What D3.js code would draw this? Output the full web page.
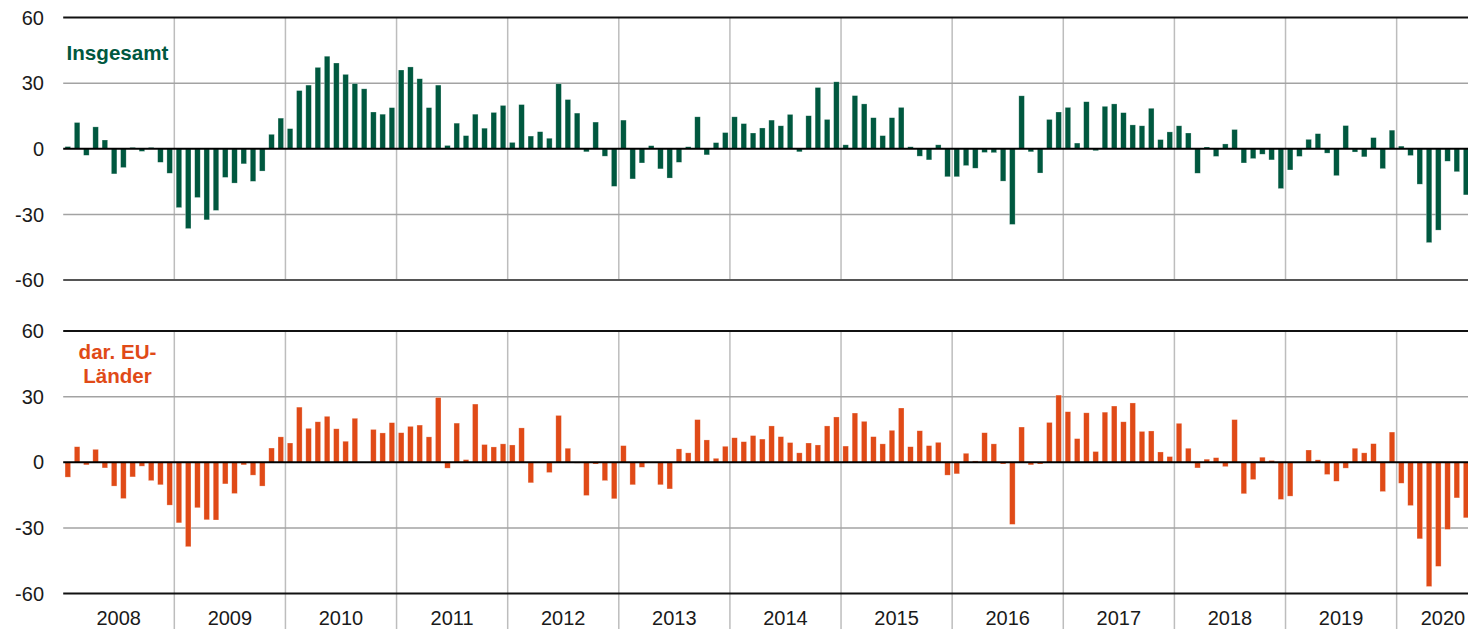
<!DOCTYPE html>
<html lang="de">
<head>
<meta charset="UTF-8">
<title>Insgesamt / dar. EU-Länder</title>
<script src="https://cdn.jsdelivr.net/npm/d3@7"></script>
<style>
    body { margin: 0; background: #fff; }
    svg { display: block; font-family: "Liberation Sans", Arial, sans-serif; }
</style>
</head>
<body>
<script>
    // years on the x axis, monthly bars Jan 2008 - Aug 2020
    const years = [2008, 2009, 2010, 2011, 2012, 2013, 2014, 2015, 2016, 2017, 2018, 2019, 2020];
    const months = d3.timeMonth.range(new Date(2008, 0, 1), new Date(2020, 8, 1));
    const yTicks = [60, 30, 0, -30, -60];

    // Insgesamt, one row per year
    const insgesamt = [
        1, 12, -3, 10, 4, -11.5, -8.6, 0.6, -1.2, 0.6, -6.2, -11.2,
        -26.9, -36.5, -22.3, -32.5, -28.2, -13.1, -15.7, -6.9, -14.9, -10.2, 6.6, 14.0,
        9.2, 26.6, 29.1, 37.2, 42.3, 39.2, 34.0, 29.8, 27.4, 16.8, 15.8, 18.8,
        36.0, 37.4, 32.0, 18.8, 29.1, 1.5, 11.7, 6.0, 15.8, 9.4, 16.6, 19.8,
        2.9, 20.2, 5.8, 7.8, 4.8, 29.7, 22.5, 16.3, -1.4, 12.2, -3.4, -17.2,
        13.1, -13.8, -6.5, 1.4, -9.2, -13.4, -6.2, 0.9, 14.6, -2.8, 2.8, 7.4,
        14.6, 11.5, 7.2, 9.5, 13.1, 10.5, 15.7, -1.4, 15.1, 28.0, 13.4, 30.6,
        1.8, 24.3, 20.5, 14.2, 6.0, 14.2, 18.9, 0.9, -3.4, -5.1, 1.8, -12.8,
        -12.8, -7.7, -8.9, -1.7, -1.8, -14.8, -34.6, 24.2, -1.4, -11.1, 13.4, 16.8,
        18.9, 2.6, 21.5, -0.9, 19.4, 20.5, 16.5, 10.9, 10.5, 18.5, 4.2, 7.7,
        10.5, 7.2, -11.2, 0.8, -3.5, 2.2, 8.8, -6.5, -4.5, -2.5, -5.1, -18.2,
        -9.7, -3.5, 4.3, 6.9, -2.0, -12.3, 10.6, -1.5, -3.7, 5.1, -9.1, 8.5,
        1.2, -3.1, -16.2, -42.9, -37.2, -5.7, -10.5, -21.1
    ];

    // dar. EU-Länder
    const euLaender = [
        -6.8, 7.1, -1.2, 5.9, -2.6, -10.9, -16.6, -6.7, -1.8, -8.4, -10.3, -19.6,
        -27.7, -38.6, -20.8, -26.3, -26.4, -9.9, -14.3, -1.2, -5.9, -10.9, 6.5, 11.6,
        8.8, 25.2, 15.5, 18.5, 21.0, 15.3, 9.6, 20.1, 0, 15.0, 13.4, 18.1,
        13.5, 16.4, 17.0, 11.6, 29.6, -2.7, 17.9, 1.2, 26.6, 8.1, 7.0, 8.4,
        7.9, 15.7, -9.4, 0, -4.7, 21.4, 6.4, -0.4, -15.2, -0.8, -8.4, -16.7,
        7.6, -10.3, -2.3, 0, -10.3, -12.2, 6.1, 4.3, 19.5, 10.2, 1.8, 7.3,
        11.2, 9.4, 12.2, 10.6, 16.6, 11.7, 9.0, 4.3, 8.8, 7.9, 16.6, 20.7,
        7.4, 22.5, 18.7, 11.7, 8.4, 14.6, 24.8, 7.1, 14.4, 7.6, 9.1, -5.9,
        -5.3, 4.1, 0.6, 13.5, 8.4, -0.8, -28.4, 16.1, -1.2, -0.8, 18.2, 30.7,
        23.1, 10.8, 22.6, 4.9, 22.9, 25.7, 18.5, 27.1, 14.1, 14.3, 4.7, 2.6,
        17.8, 6.4, -2.6, 1.4, 2.1, -2.0, 19.5, -14.4, -7.9, 2.3, 0.8, -17.0,
        -15.5, 0, 5.6, 1.1, -5.6, -8.7, -2.7, 6.4, 4.3, 8.5, -13.4, 13.8,
        -9.6, -19.8, -35.0, -56.8, -47.6, -30.7, -16.3, -25.4
    ];

    const width = 1468, height = 629;
    const left = 63.2, step = 9.26;

    const svg = d3.select("body").append("svg")
        .attr("width", width)
        .attr("height", height);

    // band scale for the months
    const x = d3.scaleBand()
        .domain(months)
        .range([left, left + months.length * step])
        .paddingInner(0.4)
        .paddingOuter(0.2);

    // left edge of a month's slot
    const slot = d => x(d) - x.step() * x.paddingOuter();

    const panels = [
        { values: insgesamt, top: 17.5, bottom: 280, color: "#00583f", bottomLine: "#555",
          label: ["Insgesamt"], labelY: 60 },
        { values: euLaender, top: 331, bottom: 593.5, color: "#e04a17", bottomLine: "#111",
          label: ["dar. EU-", "Länder"], labelY: 359 }
    ];

    const yearStarts = months.filter(d => d.getMonth() === 0 && d.getFullYear() > 2008);

    panels.forEach((p, pi) => {
        const y = d3.scaleLinear().domain([-60, 60]).range([p.bottom, p.top]);
        const g = svg.append("g");

        // vertical year grid
        g.selectAll(".vgrid")
            .data(yearStarts)
            .join("line")
            .attr("x1", d => slot(d))
            .attr("x2", d => slot(d))
            .attr("y1", p.top)
            .attr("y2", pi === 1 ? height : p.bottom)
            .attr("stroke", "#bdbdbd")
            .attr("stroke-width", 1.5);

        // horizontal grid at +/-30
        g.selectAll(".hgrid")
            .data([30, -30])
            .join("line")
            .attr("x1", left)
            .attr("x2", width)
            .attr("y1", d => y(d))
            .attr("y2", d => y(d))
            .attr("stroke", "#a3a3a3")
            .attr("stroke-width", 1.5);

        // bars
        g.selectAll(".bar")
            .data(months)
            .join("rect")
            .attr("x", d => x(d))
            .attr("width", x.bandwidth())
            .attr("y", (d, i) => y(Math.max(0, p.values[i])))
            .attr("height", (d, i) => Math.abs(y(p.values[i]) - y(0)))
            .attr("fill", p.color)
            .attr("stroke", "rgba(255,255,255,0.45)")
            .attr("stroke-width", 0.6);

        // top, bottom and zero lines
        [[60, "#111"], [-60, p.bottomLine], [0, "#000"]].forEach(([v, c]) => {
            g.append("line")
                .attr("x1", left)
                .attr("x2", width)
                .attr("y1", y(v))
                .attr("y2", y(v))
                .attr("stroke", c)
                .attr("stroke-width", 2);
        });

        // y tick labels
        g.selectAll(".ylab")
            .data(yTicks)
            .join("text")
            .attr("x", 44)
            .attr("y", d => y(d))
            .attr("dy", "0.36em")
            .attr("text-anchor", "end")
            .attr("font-size", 20)
            .attr("fill", "#1a1a1a")
            .text(d => d);

        // series label
        g.append("text")
            .attr("x", 117)
            .attr("y", p.labelY)
            .attr("text-anchor", "middle")
            .attr("font-size", 20.6)
            .attr("font-weight", "bold")
            .attr("fill", p.color)
            .selectAll("tspan")
            .data(p.label)
            .join("tspan")
            .attr("x", 117.5)
            .attr("dy", (d, i) => i === 0 ? 0 : 24)
            .text(d => d);
    });

    // year labels under the lower panel
    svg.append("g").selectAll("text")
        .data(years)
        .join("text")
        .attr("x", yr => {
            const mid = left + ((yr - 2008) * 12 + 6) * step;
            return Math.min(mid, width - 3 - 22);
        })
        .attr("y", 625)
        .attr("text-anchor", "middle")
        .attr("font-size", 20)
        .attr("fill", "#1a1a1a")
        .text(d => d);
</script>
</body>
</html>
